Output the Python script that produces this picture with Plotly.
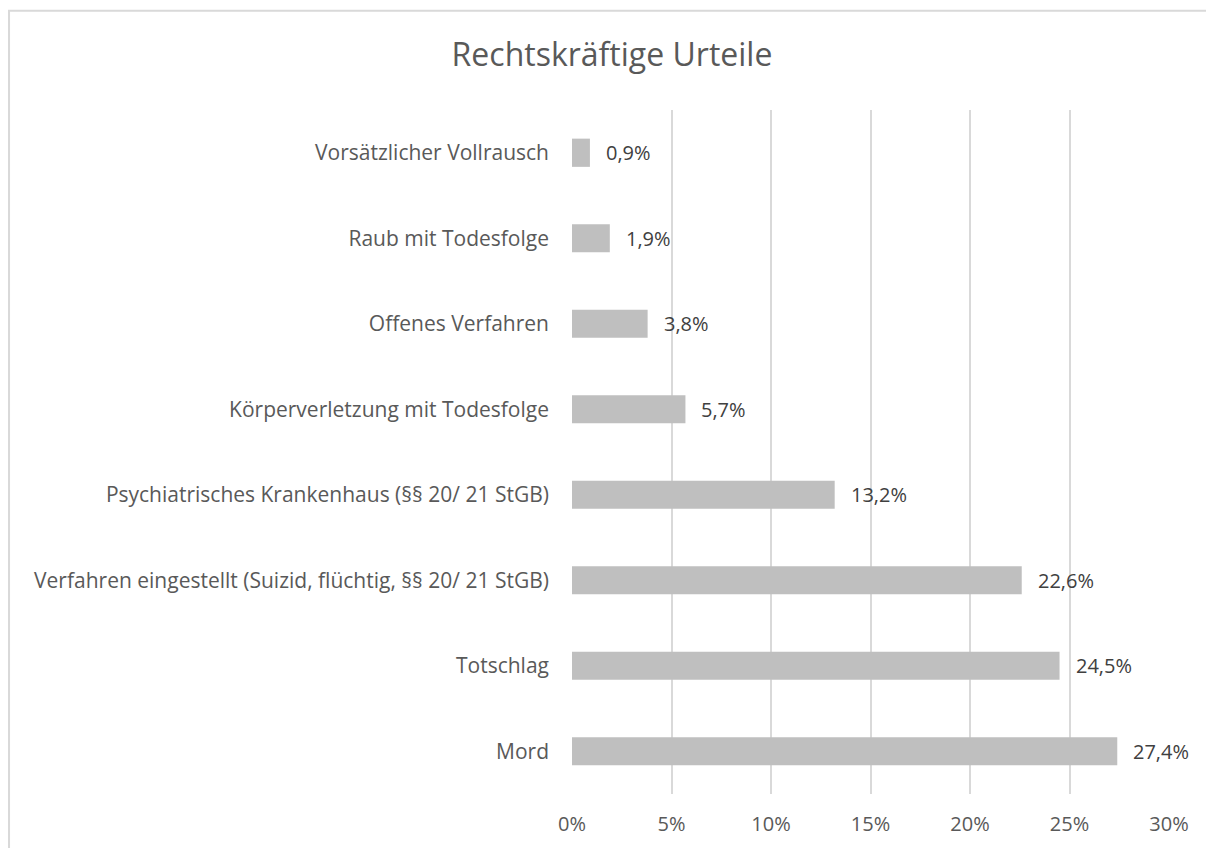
import plotly.graph_objects as go

categories = [
    "Mord",
    "Totschlag",
    "Verfahren eingestellt (Suizid, flüchtig, §§ 20/ 21 StGB)",
    "Psychiatrisches Krankenhaus (§§ 20/ 21 StGB)",
    "Körperverletzung mit Todesfolge",
    "Offenes Verfahren",
    "Raub mit Todesfolge",
    "Vorsätzlicher Vollrausch",
]
values = [27.4, 24.5, 22.6, 13.2, 5.7, 3.8, 1.9, 0.9]
tick_vals = [0, 5, 10, 15, 20, 25, 30]
tick_text = ["0%", "5%", "10%", "15%", "20%", "25%", "30%"]

FONT = "Open Sans, sans-serif"
TXT = "#595959"
LBL = "#404040"

fig = go.Figure()
fig.add_trace(go.Bar(
    x=values, y=categories, orientation="h",
    marker=dict(color="#BFBFBF", line=dict(width=0)),
    width=0.33, hoverinfo="skip",
))

for v, c in zip(values, categories):
    fig.add_annotation(x=v, y=c, xref="x", yref="y",
                       text=f"{v:.1f}%".replace(".", ","),
                       showarrow=False, xanchor="left", xshift=14,
                       font=dict(family=FONT, size=20, color=LBL))

fig.add_shape(type="rect", xref="paper", yref="paper",
              x0=-0.943, x1=1.2, y0=-0.2, y1=1.145,
              line=dict(color="#D9D9D9", width=2), fillcolor="rgba(0,0,0,0)", layer="below")

fig.update_layout(
    width=1214, height=848,
    margin=dict(l=564, r=53, t=102, b=62),
    paper_bgcolor="white", plot_bgcolor="white",
    title=dict(text="Rechtskräftige Urteile", x=(612 - 8) / 1214, xref="container", xanchor="center",
               y=1 - 47/848, yref="container", yanchor="middle",
               font=dict(family=FONT, size=32, color=TXT)),
    showlegend=False,
    font=dict(family=FONT, size=21, color=TXT),
    xaxis=dict(range=[0, 30], tickvals=tick_vals, ticktext=tick_text,
               showgrid=True, gridcolor="#D9D9D9", gridwidth=1.5,
               zeroline=False, showline=False, ticks="",
               ticklabelstandoff=16,
               tickfont=dict(family=FONT, size=20, color=TXT)),
    yaxis=dict(showgrid=False, zeroline=False, showline=False, ticks="",
               ticklabelstandoff=22,
               tickfont=dict(family=FONT, size=21, color=TXT)),
)

fig.write_html("out.html")
